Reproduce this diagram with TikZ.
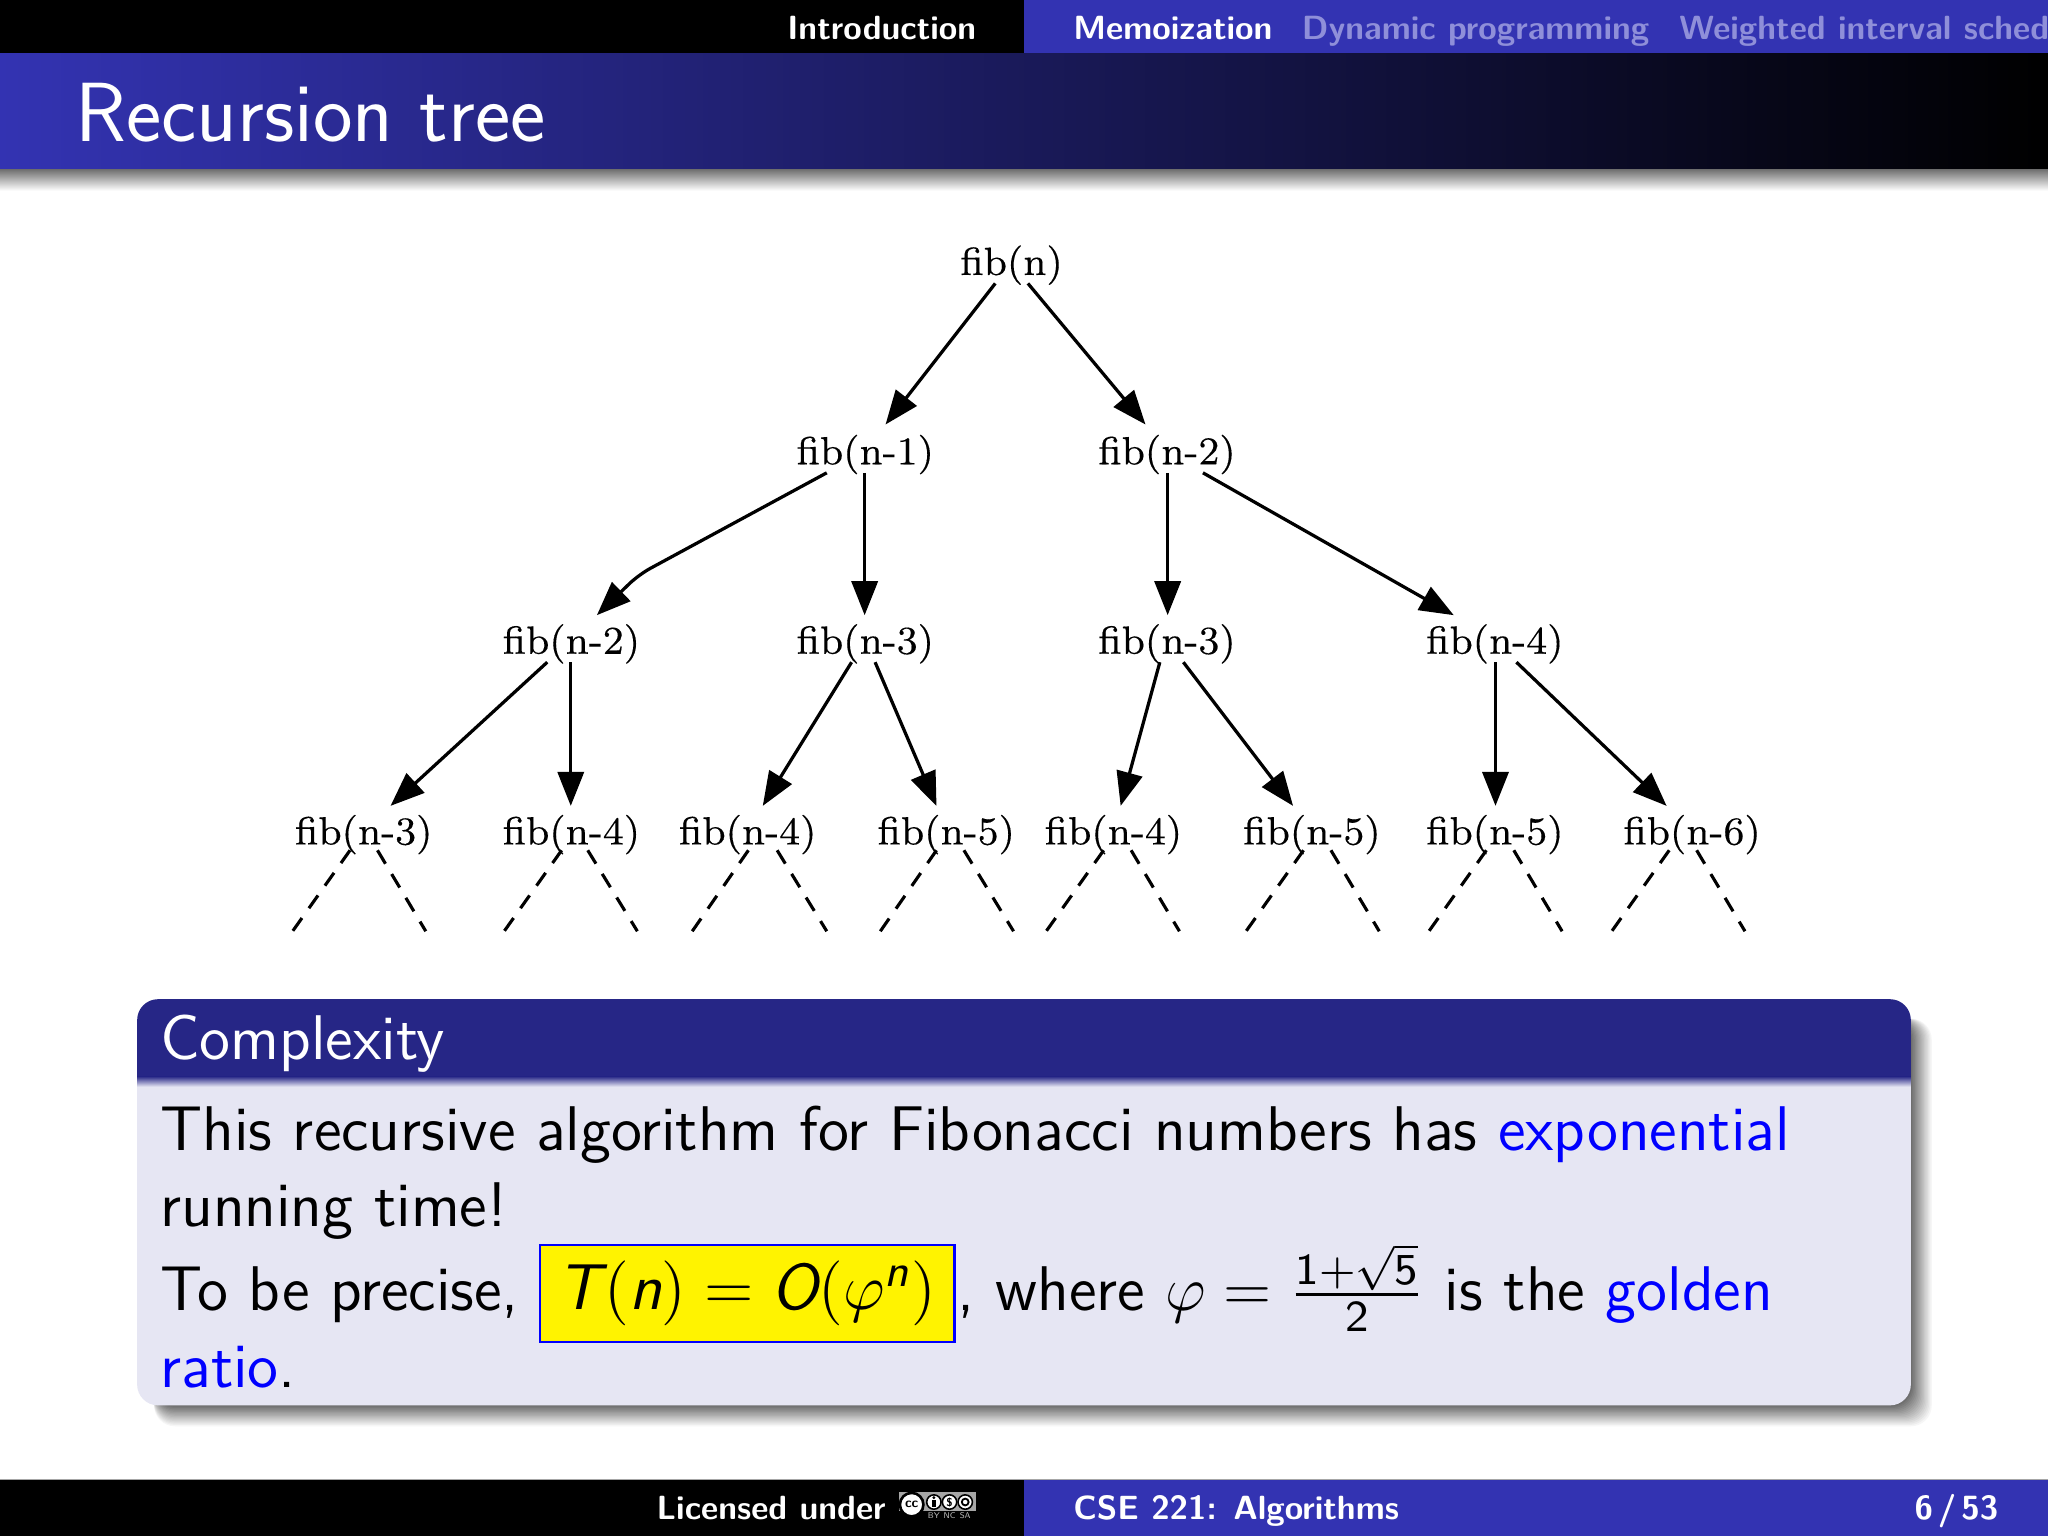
\documentclass[tikz,border=0pt]{standalone}
\usepackage{fix-cm}
\usepackage{amsmath}
\usepackage{fontspec}
\usetikzlibrary{arrows.meta}
\DeclareMathAlphabet{\mathsi}{TU}{lmss}{m}{sl}
\newfontfamily\treefont[FakeBold=0.25]{Latin Modern Roman}
\definecolor{barblue}{RGB}{51,51,178}
\definecolor{blockhead}{RGB}{38,38,134}
\definecolor{blockbody}{RGB}{230,230,243}
\definecolor{navdim}{RGB}{143,143,217}
\definecolor{boxyellow}{RGB}{255,243,0}
\newcommand{\fsz}[1]{\fontsize{#1}{#1}\selectfont}
\tikzset{
  x=0.25pt,y=-0.25pt,
  treenode/.style={font=\treefont\fsz{7.55},inner sep=0pt,anchor=center},
  treeedge/.style={line width=0.62pt,-{Triangle[length=6.5pt,width=5pt]}},
  dashedge/.style={line width=0.6pt,dash pattern=on 3pt off 2.3pt},
  navtext/.style={font=\sffamily\bfseries\fsz{6.42},text=white,anchor=base west,inner sep=0pt},
  bodytext/.style={font=\sffamily\fsz{12.08},anchor=base west,inner sep=0pt},
}
\begin{document}
\begin{tikzpicture}
\useasboundingbox (0,0) rectangle (1568,1176);
\begin{scope}
\clip (0,0) rectangle (1568,1176);
\fill[white] (0,0) rectangle (1568,1176);
% head
\fill[black] (0,0) rectangle (784,41);
\fill[barblue] (784,0) rectangle (1568,41);
\shade[left color=barblue,right color=black] (0,41) rectangle (1568,130);
\shade[top color=black!55!white,bottom color=white] (0,130) rectangle (1568,146);
\node[navtext] (nav1) at (602,30) {Introduction};
\node[navtext] (nav2) at (821,30) {Memoization};
\node[navtext,text=navdim] (nav3) at (996,30) {Dynamic programming};
\node[navtext,text=navdim] (nav4) at (1285,30) {Weighted interval sched};
\node[font=\sffamily\fsz{16.08},text=white,anchor=base west,inner sep=0pt] (title) at (57,108) {Recursion tree};
% tree
\node[treenode] (r) at (774.5,203) {fib(n)};
\node[treenode] (a) at (662.5,348) {fib(n-1)};
\node[treenode] (b) at (893.5,348) {fib(n-2)};
\node[treenode] (c) at (437.5,493) {fib(n-2)};
\node[treenode] (d) at (662.5,493) {fib(n-3)};
\node[treenode] (e) at (893.5,493) {fib(n-3)};
\node[treenode] (f) at (1144.5,493) {fib(n-4)};
\node[treenode] (g) at (278.5,639) {fib(n-3)};
\node[treenode] (h) at (437.5,639) {fib(n-4)};
\node[treenode] (i) at (572.5,639) {fib(n-4)};
\node[treenode] (j) at (724.5,639) {fib(n-5)};
\node[treenode] (k) at (852.5,639) {fib(n-4)};
\node[treenode] (l) at (1004.5,639) {fib(n-5)};
\node[treenode] (m) at (1144.5,639) {fib(n-5)};
\node[treenode] (n) at (1295.5,639) {fib(n-6)};
\draw[treeedge] ([shift={(-12.5,14)}]r.center) -- ([shift={(15.5,-23)}]a.center);
\draw[treeedge] ([shift={(12.5,14)}]r.center) -- ([shift={(-16.5,-23)}]b.center);
\coordinate (bend) at (489,440);
\draw[treeedge,rounded corners=2.5pt] ([shift={(-29.5,14)}]a.center) -- (bend) -- ([shift={(19.5,-22)}]c.center);
\draw[treeedge] ([shift={(-0.5,14)}]a.center) -- ([shift={(-0.5,-22)}]d.center);
\draw[treeedge] ([shift={(0.5,14)}]b.center) -- ([shift={(0.5,-22)}]e.center);
\draw[treeedge] ([shift={(27.5,14)}]b.center) -- ([shift={(-31.5,-22)}]f.center);
\draw[treeedge] ([shift={(-18.5,14)}]c.center) -- ([shift={(20.5,-22)}]g.center);
\draw[treeedge] ([shift={(-0.5,14)}]c.center) -- ([shift={(-0.5,-22)}]h.center);
\draw[treeedge] ([shift={(-10.5,14)}]d.center) -- ([shift={(11.5,-22)}]i.center);
\draw[treeedge] ([shift={(7.5,14)}]d.center) -- ([shift={(-7.5,-22)}]j.center);
\draw[treeedge] ([shift={(-5.5,14)}]e.center) -- ([shift={(5.5,-22)}]k.center);
\draw[treeedge] ([shift={(12.5,14)}]e.center) -- ([shift={(-14.5,-22)}]l.center);
\draw[treeedge] ([shift={(0.5,14)}]f.center) -- ([shift={(0.5,-22)}]m.center);
\draw[treeedge] ([shift={(16.5,14)}]f.center) -- ([shift={(-19.5,-22)}]n.center);
\foreach \nd/\lx/\rx/\le/\re in {g/-10.5/10.5/-54.5/47.5, h/-7.5/12.5/-51.5/50.5, i/0.5/22.5/-42.5/60.5, j/-7.5/13.5/-50.5/51.5, k/-7.5/13.5/-51.5/50.5, l/-6.5/14.5/-50.5/51.5, m/-6.5/14.5/-50.5/51.5, n/-17.5/3.5/-61.5/40.5}{
  \draw[dashedge] ([shift={(\lx,12)}]\nd.center) -- ([shift={(\le,74)}]\nd.center);
  \draw[dashedge] ([shift={(\rx,12)}]\nd.center) -- ([shift={(\re,74)}]\nd.center);
}
% block shadow
\foreach \i in {16,15,...,1}{
  \pgfmathsetmacro{\c}{60*(1-\i/17)}
  \fill[black!\c!white,rounded corners=4pt] (118,780) rectangle (1463+\i,1076+\i);
}
% block
\fill[blockbody,rounded corners=4pt] (105,800) rectangle (1463,1076);
\fill[blockhead,rounded corners=4pt] (105,765) rectangle (1463,800);
\fill[blockhead] (105,785) rectangle (1463,824);
\shade[top color=blockhead,bottom color=blockbody] (105,824) rectangle (1463,832);
\node[bodytext,text=white] (btitle) at (122,811) {Complexity};
\node[bodytext] (l1) at (122,881) {This recursive algorithm for Fibonacci numbers has \textcolor{blue}{exponential}};
\node[bodytext] (l2) at (122,939) {running time!};
\node[bodytext] (l3) at (122,1003) {To be precise,};
\node[draw=blue,fill=boxyellow,line width=0.4pt,inner sep=0pt,minimum width=79.4pt,minimum height=18.6pt,font=\sffamily\fsz{12.4},anchor=center] (yb) at (572,990.5) {$\mathsi{T}\mkern1mu(\mathsi{n})=\mathsi{O}(\varphi^{\mathsi{n}})$};
\node[bodytext] (l3b) at (732.5,1003) {, where $\varphi=\frac{\mathsf{1}+\sqrt{\mathsf{5}}}{\mathsf{2}}$ is the \textcolor{blue}{golden}};
\node[bodytext] (l4) at (122,1062) {\textcolor{blue}{ratio}.};
% foot
\fill[black!35!white] (0,1132) rectangle (1568,1133);
\fill[black] (0,1133) rectangle (784,1176);
\fill[barblue] (784,1133) rectangle (1568,1176);
\node[navtext] (f1) at (502,1163) {Licensed under};
\node[navtext] (f2) at (821,1163) {CSE 221: Algorithms};
\node[navtext] (f3) at (1465,1163) {6\hspace{.15em}/\hspace{.15em}53};
% cc badge
\fill[black!35!white] (688,1142) rectangle (747,1157);
\fill[black] (688,1157) rectangle (747,1164);
\filldraw[fill=white,draw=black,line width=0.5pt] (698,1152) circle (9);
\node[font=\sffamily\bfseries\fsz{2.6},inner sep=0pt] (cc0) at (698,1152) {cc};
\foreach \x in {715,727,739}{
  \filldraw[fill=white,draw=black,line width=0.3pt] (\x,1150) circle (5.5);
}
\fill[black] (715,1146.6) circle (1.2);
\fill[black] (713.7,1148.5) rectangle (716.3,1153.5);
\node[font=\sffamily\bfseries\fsz{2.2},inner sep=0pt] (cc2) at (727,1150) {\$};
\draw[black,line width=0.35pt] (739,1150) circle (2.6);
\node[font=\sffamily\fsz{1.6},text=white!75!black,inner sep=0pt] (ccby) at (715,1160.5) {BY};
\node[font=\sffamily\fsz{1.6},text=white!75!black,inner sep=0pt] (ccnc) at (727,1160.5) {NC};
\node[font=\sffamily\fsz{1.6},text=white!75!black,inner sep=0pt] (ccsa) at (739,1160.5) {SA};
\end{scope}
\end{tikzpicture}
\end{document}
